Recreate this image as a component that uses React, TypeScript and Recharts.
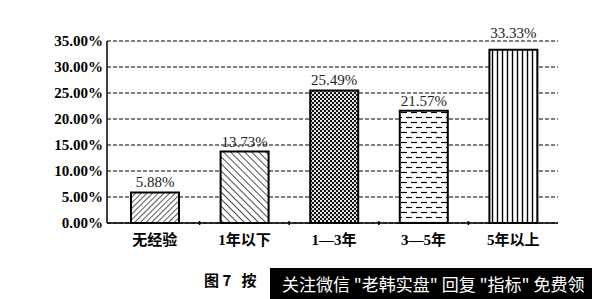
import React from 'react';
import {
  BarChart,
  Bar,
  XAxis,
  YAxis,
  CartesianGrid,
  Cell,
  LabelList
} from 'recharts';

const categories = ['无经验', '1年以下', '1—3年', '3—5年', '5年以上'];
const shares = [5.88, 13.73, 25.49, 21.57, 33.33];
const yTicks = [0, 5, 10, 15, 20, 25, 30, 35];
const patternIds = ['hatchFwd', 'hatchBack', 'checker', 'dashRows', 'vLines'];

const serif = '"Liberation Serif", "Noto Sans CJK SC", serif';

// x-axis label plus a little tick mark on the category boundary to its right
const CategoryTick = (props: any) => {
  const { x, y, payload, index } = props;
  const band = 448 / categories.length;
  return (
    <g>
      {index < categories.length - 1 && (
        <line x1={x + band / 2} x2={x + band / 2} y1={y - 6} y2={y - 10} stroke="#000" strokeWidth={1.5} />
      )}
      <text x={x} y={y + 14} textAnchor="middle" fontFamily={serif} fontWeight="bold" fontSize={15} fill="#000">
        {payload.value}
      </text>
    </g>
  );
};

// value above each bar; the tallest one is lifted clear of the top grid line
const ValueLabel = (props: any) => {
  const { x, y, width, value } = props;
  const lift = value > 32 ? 12 : 5;
  return (
    <text x={x + width / 2} y={y - lift} textAnchor="middle" fontFamily={serif} fontSize={15} fill="#222">
      {`${Number(value).toFixed(2)}%`}
    </text>
  );
};

const App: React.FC = () => {
  const chartData = categories.map((name, i) => ({ name, value: shares[i] }));

  return (
    <div style={{ position: 'relative', width: 600, height: 299, margin: '-8px 0 0 -8px', background: '#fff', overflow: 'hidden' }}>
      <svg width={0} height={0} style={{ position: 'absolute' }}>
        <defs>
          <pattern id="hatchFwd" width={4} height={4} patternUnits="userSpaceOnUse" patternTransform="rotate(45)">
            <rect width={4} height={4} fill="#fff" />
            <line x1={0} y1={0} x2={0} y2={4} stroke="#000" strokeWidth={1.3} />
          </pattern>
          <pattern id="hatchBack" width={5} height={5} patternUnits="userSpaceOnUse" patternTransform="rotate(-45)">
            <rect width={5} height={5} fill="#fff" />
            <line x1={0} y1={0} x2={0} y2={5} stroke="#000" strokeWidth={1.4} />
          </pattern>
          <pattern id="checker" width={4} height={4} patternUnits="userSpaceOnUse">
            <rect width={4} height={4} fill="#111" />
            <circle cx={1} cy={1} r={1.1} fill="#fff" />
            <circle cx={3} cy={3} r={1.1} fill="#fff" />
          </pattern>
          <pattern id="dashRows" width={10} height={10} patternUnits="userSpaceOnUse">
            <rect width={10} height={10} fill="#fff" />
            <line x1={1} y1={2.5} x2={7} y2={2.5} stroke="#000" strokeWidth={1.2} />
            <line x1={6} y1={7.5} x2={12} y2={7.5} stroke="#000" strokeWidth={1.2} />
            <line x1={-4} y1={7.5} x2={2} y2={7.5} stroke="#000" strokeWidth={1.2} />
          </pattern>
          <pattern id="vLines" width={5} height={5} patternUnits="userSpaceOnUse">
            <rect width={5} height={5} fill="#fff" />
            <line x1={2.5} y1={0} x2={2.5} y2={5} stroke="#000" strokeWidth={1.4} />
          </pattern>
        </defs>
      </svg>

      <BarChart width={600} height={299} data={chartData} margin={{ top: 41, right: 42, left: 7, bottom: 52 }}>
        <CartesianGrid vertical={false} stroke="#000" strokeDasharray="4 2" />
        <XAxis
          dataKey="name"
          tick={<CategoryTick />}
          tickLine={false}
          axisLine={{ stroke: '#000', strokeWidth: 1.5 }}
          interval={0}
          height={24}
          padding={{ left: 3, right: 0 }}
        />
        <YAxis
          domain={[0, 35]}
          ticks={yTicks}
          tickFormatter={(v: number) => `${v.toFixed(2)}%`}
          tickLine={false}
          tickSize={2}
          tickMargin={2}
          axisLine={{ stroke: '#000', strokeWidth: 1.5 }}
          tick={{ fill: '#000', fontFamily: serif, fontWeight: 'bold', fontSize: 15 }}
          width={100}
          interval={0}
        />
        <YAxis
          yAxisId="frame"
          orientation="right"
          width={0}
          tick={false}
          tickLine={false}
          axisLine={{ stroke: '#000', strokeDasharray: '4 2' }}
        />
        <Bar dataKey="value" barSize={48} stroke="#000" strokeWidth={2} isAnimationActive={false}>
          {chartData.map((d, i) => (
            <Cell key={d.name} fill={`url(#${patternIds[i]})`} />
          ))}
          <LabelList dataKey="value" content={<ValueLabel />} />
        </Bar>
      </BarChart>

      <div style={{ position: 'absolute', left: 204, top: 269, fontFamily: '"Noto Sans CJK SC", sans-serif', fontWeight: 'bold', fontSize: 15, color: '#000', whiteSpace: 'nowrap' }}>
        图 7&nbsp;&nbsp;&nbsp;按
      </div>
      <div style={{ position: 'absolute', left: 270, top: 268, width: 330, height: 31, background: '#000', color: '#fff', fontFamily: '"Noto Sans CJK SC", sans-serif', fontSize: 17, lineHeight: '31px', paddingLeft: 12, whiteSpace: 'nowrap', overflow: 'hidden', boxSizing: 'border-box' }}>
        关注微信 "老韩实盘" 回复 "指标" 免费领
      </div>
    </div>
  );
};

export default App;
